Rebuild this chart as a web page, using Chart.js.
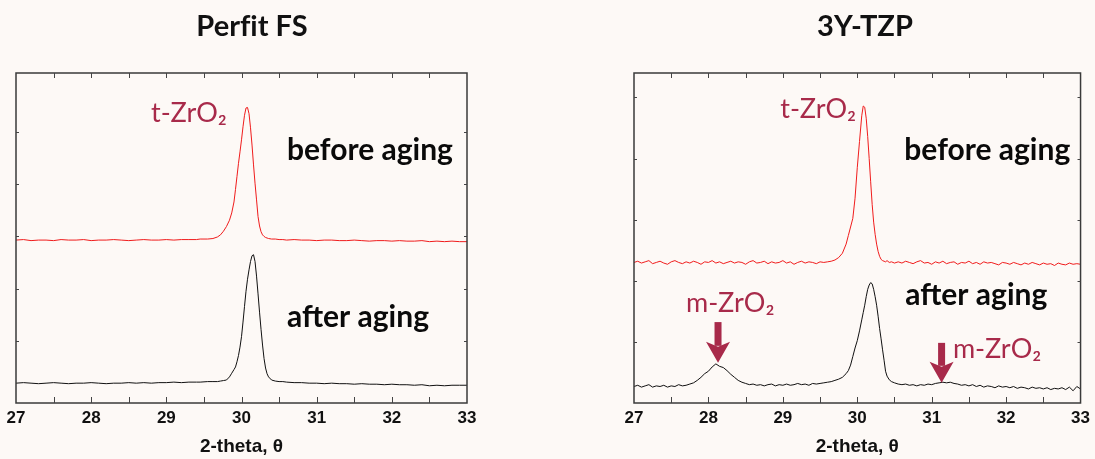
<!DOCTYPE html>
<html><head><meta charset="utf-8">
<script src="https://cdn.jsdelivr.net/npm/chart.js@4"></script>
<style>
html,body{margin:0;padding:0;background:#fdf9f6;}
#wrap{position:relative;width:1095px;height:459px;overflow:hidden;background:#fdf9f6;}
canvas{position:absolute;top:0;}
</style></head><body>
<div id="wrap">
<canvas id="cL" width="548" height="459" style="left:0px"></canvas>
<canvas id="cR" width="547" height="459" style="left:548px"></canvas>
</div>
<script>
// ---------- DATA ----------
const panelTitles = ['Perf\u200Cit FS', '3Y-TZP'];
const xAxisTitle = '2-theta, θ';
const xMin = 27, xMax = 33, xStep = 0.5;

// Left panel (Perfit FS)
const thetaL = [
 27.0,27.1,27.2,27.3,27.4,27.5,27.6,27.7,27.8,27.9,28.0,28.1,28.2,28.3,28.4,28.5,28.6,28.7,28.8,28.9,29.0,29.1,29.2,29.3,29.4,
 29.45,29.55,29.62,29.68,29.72,29.76,29.80,29.84,29.87,
 29.90,29.92,29.94,29.96,29.98,30.00,30.02,30.04,30.06,30.08,30.10,30.12,30.14,30.16,30.18,30.20,30.22,30.24,30.26,30.28,30.30,30.32,30.34,30.36,
 30.40,30.45,30.50,30.55,
 30.6,30.7,30.8,30.9,31.0,31.1,31.2,31.3,31.4,31.5,31.6,31.7,31.8,31.9,32.0,32.1,32.2,32.3,32.4,32.5,32.6,32.7,32.8,32.9,33.0
];
const beforeL = [
 2.93,2.94,2.92,2.93,2.93,2.92,2.94,2.93,2.93,2.94,2.92,2.93,2.93,2.94,2.93,2.92,2.93,2.94,2.93,2.93,2.94,2.93,2.94,2.94,2.94,
 2.95,2.95,2.96,2.99,3.03,3.10,3.19,3.31,3.45,
 3.66,3.90,4.15,4.40,4.62,4.85,5.10,5.32,5.46,5.47,5.35,5.08,4.75,4.37,4.02,3.70,3.38,3.20,3.09,3.03,3.00,2.98,2.97,2.96,
 2.95,2.95,2.94,2.94,
 2.93,2.94,2.93,2.93,2.92,2.93,2.93,2.92,2.92,2.93,2.92,2.91,2.92,2.92,2.91,2.92,2.91,2.91,2.92,2.90,2.91,2.90,2.91,2.90,2.90
];
const afterL = [
 0.19,0.20,0.19,0.18,0.19,0.20,0.19,0.18,0.19,0.19,0.20,0.19,0.18,0.19,0.19,0.20,0.19,0.20,0.19,0.20,0.20,0.21,0.20,0.21,0.21,
 0.21,0.22,0.22,0.22,0.23,0.24,0.25,0.31,0.38,
 0.45,0.50,0.60,0.72,0.88,1.08,1.36,1.66,1.95,2.18,2.36,2.52,2.63,2.65,2.52,2.24,1.90,1.55,1.22,0.92,0.66,0.48,0.37,0.31,
 0.25,0.23,0.22,0.22,
 0.21,0.20,0.20,0.19,0.19,0.18,0.19,0.18,0.18,0.17,0.18,0.17,0.17,0.16,0.17,0.16,0.16,0.15,0.16,0.14,0.15,0.14,0.15,0.15,0.15
];

// Right panel (3Y-TZP)
const thetaR = [
 27.00,27.05,27.10,27.15,27.20,27.25,27.30,27.35,27.40,27.45,27.50,27.55,27.60,27.65,27.70,27.75,27.80,27.85,27.90,27.95,
 28.00,28.05,28.10,28.15,28.20,28.25,28.30,28.35,28.40,28.45,28.50,28.55,28.60,28.65,28.70,28.75,28.80,28.85,28.90,28.95,
 29.00,29.05,29.10,29.15,29.20,29.25,29.30,29.35,29.40,29.45,29.50,29.55,
 29.60,29.65,29.70,29.75,29.80,29.85,29.88,29.91,29.94,29.97,30.00,30.03,30.06,
 30.08,30.10,30.12,30.14,30.16,30.18,30.20,30.22,30.24,30.26,30.28,30.30,30.32,30.34,30.36,30.38,30.40,
 30.43,30.46,30.50,
 30.55,30.60,30.65,30.70,30.75,30.80,30.85,30.90,30.95,31.00,31.05,31.10,31.15,31.20,31.25,31.30,31.35,31.40,31.45,31.50,
 31.55,31.60,31.65,31.70,31.75,31.80,31.85,31.90,31.95,32.00,32.05,32.10,32.15,32.20,32.25,32.30,32.35,32.40,32.45,32.50,
 32.55,32.60,32.65,32.70,32.75,32.80,32.85,32.90,32.95,33.00
];
const beforeR = [
 2.30,2.32,2.29,2.31,2.33,2.28,2.30,2.32,2.29,2.27,2.31,2.33,2.30,2.28,2.31,2.29,2.32,2.30,2.27,2.31,
 2.30,2.33,2.29,2.31,2.28,2.30,2.32,2.29,2.31,2.30,2.27,2.31,2.33,2.29,2.30,2.32,2.28,2.31,2.29,2.30,
 2.33,2.29,2.31,2.27,2.30,2.32,2.29,2.31,2.30,2.28,2.31,2.30,
 2.31,2.32,2.34,2.38,2.45,2.60,2.74,2.88,3.02,3.35,3.85,4.28,4.70,
 4.86,4.84,4.66,4.36,4.00,3.62,3.25,2.96,2.76,2.60,2.48,2.40,2.35,2.33,2.32,2.31,2.33,
 2.30,2.31,2.29,
 2.31,2.29,2.32,2.30,2.28,2.31,2.33,2.29,2.30,2.27,2.31,2.29,2.32,2.28,2.30,2.31,2.27,2.30,2.29,2.32,
 2.28,2.30,2.27,2.31,2.29,2.30,2.28,2.26,2.30,2.29,2.27,2.30,2.28,2.26,2.29,2.27,2.30,2.28,2.26,2.29,
 2.27,2.28,2.25,2.29,2.27,2.26,2.29,2.27,2.28,2.27
];
const afterR = [
 0.27,0.29,0.26,0.28,0.30,0.26,0.28,0.27,0.29,0.26,0.28,0.27,0.30,0.28,0.29,0.31,0.33,0.37,0.42,0.48,
 0.52,0.59,0.64,0.60,0.58,0.53,0.47,0.42,0.37,0.34,0.32,0.30,0.31,0.29,0.30,0.28,0.30,0.31,0.28,0.30,
 0.29,0.31,0.29,0.30,0.32,0.30,0.31,0.29,0.32,0.31,0.32,0.33,
 0.34,0.35,0.37,0.39,0.42,0.48,0.53,0.62,0.76,0.90,1.02,1.18,1.36,
 1.48,1.60,1.74,1.86,1.93,1.97,1.95,1.86,1.74,1.60,1.42,1.22,1.05,0.87,0.70,0.52,0.44,
 0.38,0.35,0.33,
 0.31,0.30,0.31,0.29,0.30,0.28,0.30,0.29,0.31,0.30,0.32,0.33,0.34,0.33,0.34,0.32,0.31,0.29,0.30,0.28,
 0.30,0.27,0.29,0.26,0.28,0.27,0.25,0.28,0.26,0.27,0.25,0.27,0.24,0.26,0.25,0.23,0.26,0.24,0.25,0.23,
 0.25,0.22,0.24,0.23,0.25,0.22,0.26,0.20,0.27,0.23
];

// ---------- STYLES / LAYOUT ----------
const BG = '#fdf9f6';
const RED = '#f01c1c';
const BLACK = '#111111';
const LABEL = '#a82a4a';
const TEXTF = 'Lato, "Open Sans", sans-serif';
const AXISF = '"Liberation Sans", Arial, sans-serif';

function pts(xs, ys){ return xs.map((x,i)=>({x:x, y:ys[i]})); }

const annotPlugin = {
  id: 'annot',
  afterDatasetsDraw(chart, args, opts) {
    const ctx = chart.ctx, a = chart.chartArea;
    const xs = chart.scales.x, ys = chart.scales.y;
    ctx.save();
    // frame
    ctx.strokeStyle = '#3a3a3a'; ctx.lineWidth = 1.5;
    ctx.strokeRect(a.left, a.top, a.right - a.left, a.bottom - a.top);
    // inward ticks
    ctx.strokeStyle = '#444'; ctx.lineWidth = 1;
    ctx.beginPath();
    xs.ticks.forEach(t => {
      const px = Math.round(xs.getPixelForValue(t.value)) + 0.5;
      if (px <= a.left + 1 || px >= a.right - 1) return;
      ctx.moveTo(px, a.bottom); ctx.lineTo(px, a.bottom - 6);
      ctx.moveTo(px, a.top); ctx.lineTo(px, a.top + 5);
    });
    ys.ticks.forEach(t => {
      const py = Math.round(ys.getPixelForValue(t.value)) + 0.5;
      if (py <= a.top + 1 || py >= a.bottom - 1) return;
      ctx.moveTo(a.left, py); ctx.lineTo(a.left + 3, py);
      ctx.moveTo(a.right, py); ctx.lineTo(a.right - 3, py);
    });
    ctx.stroke();
    // title
    ctx.fillStyle = '#111';
    ctx.font = 'bold 29px ' + TEXTF;
    ctx.textAlign = 'center'; ctx.textBaseline = 'alphabetic';
    ctx.fillText(opts.title, opts.titleX, 36);
    // labels
    ctx.textAlign = 'left';
    (opts.labels || []).forEach(l => {
      ctx.font = l.font; ctx.fillStyle = l.color;
      ctx.fillText(l.text, xs.getPixelForValue(l.x), ys.getPixelForValue(l.y));
    });
    // arrows
    ctx.fillStyle = LABEL;
    (opts.arrows || []).forEach(ar => {
      const x = xs.getPixelForValue(ar.x);
      const yt = ys.getPixelForValue(ar.top), yb = ys.getPixelForValue(ar.tip);
      const hh = 19, hw = 12, sw = 3.5;
      ctx.fillRect(x - sw, yt, sw * 2, (yb - hh) - yt + 2);
      ctx.beginPath();
      ctx.moveTo(x, yb);
      ctx.lineTo(x - hw, yb - hh - 2);
      ctx.lineTo(x, yb - hh + 3);
      ctx.lineTo(x + hw, yb - hh - 2);
      ctx.closePath(); ctx.fill();
    });
    ctx.restore();
  }
};

const bgPlugin = {
  id: 'bgfill',
  beforeDraw(chart) {
    const ctx = chart.ctx;
    ctx.save(); ctx.fillStyle = BG; ctx.fillRect(0, 0, chart.width, chart.height); ctx.restore();
  }
};

function makeChart(id, theta, before, after, yMin, yMax, padRight, yWidth, annot) {
  return new Chart(document.getElementById(id), {
    type: 'line',
    data: {
      datasets: [
        { data: pts(theta, before), borderColor: RED, borderWidth: 1, pointRadius: 0, tension: 0 },
        { data: pts(theta, after), borderColor: BLACK, borderWidth: 1, pointRadius: 0, tension: 0 }
      ]
    },
    options: {
      responsive: false, animation: false, devicePixelRatio: 1,
      layout: { padding: { left: 0, right: padRight, top: 73, bottom: 0 } },
      plugins: { legend: { display: false }, tooltip: { enabled: false }, annot: annot },
      scales: {
        x: {
          type: 'linear', min: xMin, max: xMax,
          grid: { display: false, drawTicks: false }, border: { display: false },
          ticks: {
            stepSize: xStep, autoSkip: false, maxRotation: 0, padding: 5,
            color: '#111', font: { family: AXISF, weight: 'bold', size: 17 },
            callback: v => Number.isInteger(v) ? String(v) : ''
          },
          title: { display: true, text: xAxisTitle, color: '#111', font: { family: AXISF, weight: 'bold', size: 19 }, padding: { top: 0, bottom: 1 } },
          afterFit: s => { s.height = 56; }
        },
        y: {
          min: yMin, max: yMax,
          grid: { display: false, drawTicks: false }, border: { display: false },
          ticks: { display: false, stepSize: 1 },
          afterFit: s => { s.width = yWidth; }
        }
      }
    },
    plugins: [bgPlugin, annotPlugin]
  });
}

const bigBold = 'bold 30px ' + TEXTF;
const redLab = '27px ' + TEXTF;

makeChart('cL', thetaL, beforeL, afterL, -0.19, 6.13, 81, 16, {
  title: panelTitles[0], titleX: 252,
  labels: [
    { text: 't-ZrO₂', x: 28.796, y: 5.188, font: redLab, color: LABEL },
    { text: 'before aging', x: 30.605, y: 4.457, font: bigBold, color: '#0a0a0a' },
    { text: 'after aging', x: 30.605, y: 1.272, font: bigBold, color: '#0a0a0a' }
  ],
  arrows: []
});

makeChart('cR', thetaR, beforeR, afterR, 0, 5.40, 11, 86, {
  title: panelTitles[1], titleX: 317,
  labels: [
    { text: 't-ZrO₂', x: 28.965, y: 4.66, font: redLab, color: LABEL },
    { text: 'before aging', x: 30.632, y: 3.979, font: bigBold, color: '#0a0a0a' },
    { text: 'after aging', x: 30.645, y: 1.609, font: bigBold, color: '#0a0a0a' },
    { text: 'm-ZrO₂', x: 27.699, y: 1.495, font: redLab, color: LABEL },
    { text: 'm-ZrO₂', x: 31.285, y: 0.743, font: redLab, color: LABEL }
  ],
  arrows: [
    { x: 28.129, top: 1.324, tip: 0.657 },
    { x: 31.133, top: 0.984, tip: 0.33 }
  ]
});
</script>
</body></html>
